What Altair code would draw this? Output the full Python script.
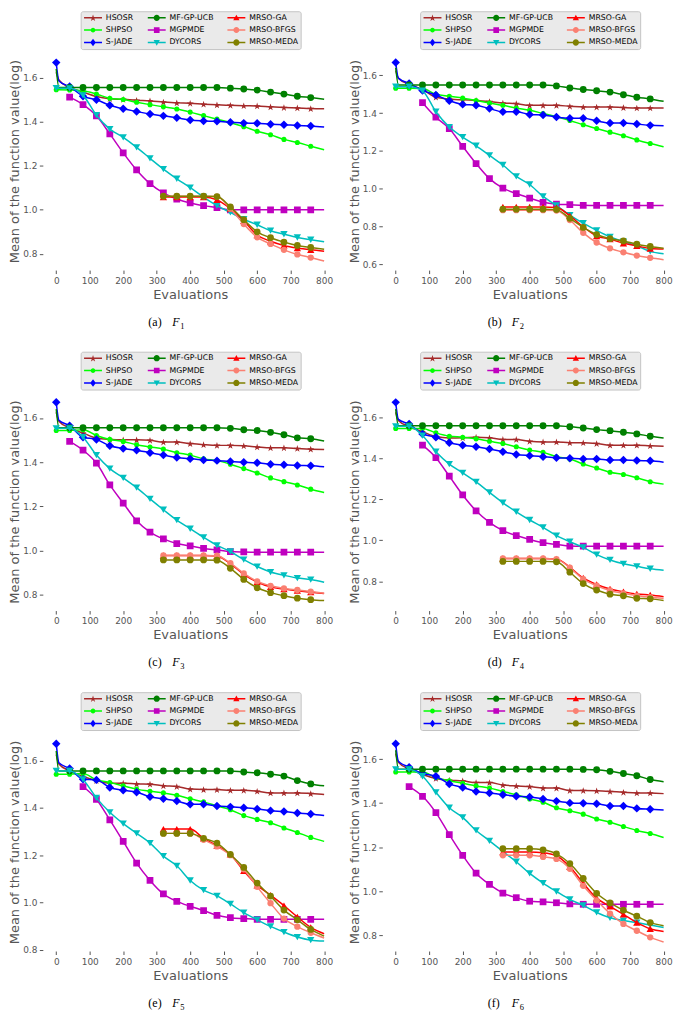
import altair as alt
import pandas as pd

N = None
EVALS = [0, 8, 40, 80, 120, 160, 200, 240, 280, 320, 360, 400, 440, 480,
         520, 560, 600, 640, 680, 720, 760, 800]
XTICKS = [0, 100, 200, 300, 400, 500, 600, 700, 800]

SERIES = ["HSOSR", "SHPSO", "S-JADE", "MF-GP-UCB", "MGPMDE", "DYCORS",
          "MRSO-GA", "MRSO-BFGS", "MRSO-MEDA"]
COLORS = ["#A52A2A", "#00FF00", "#0000FF", "#008000", "#BF00BF", "#00BFBF",
          "#FF0000", "#FA8072", "#808000"]
NO_MARK_AT_ZERO = ["HSOSR", "MF-GP-UCB"]

# ---------------- F1 ----------------
F1_HSOSR = [1.625, 1.59, 1.556, 1.535, 1.515, 1.505, 1.502, 1.498, 1.495, 1.49, 1.486, 1.484, 1.48, 1.477, 1.475, 1.473, 1.472, 1.468, 1.465, 1.463, 1.46, 1.459]
F1_SHPSO = [1.546, 1.546, 1.545, 1.541, 1.526, 1.507, 1.501, 1.489, 1.478, 1.468, 1.458, 1.444, 1.428, 1.412, 1.396, 1.378, 1.357, 1.341, 1.32, 1.306, 1.289, 1.273]
F1_SJADE = [1.669, 1.585, 1.56, 1.516, 1.50, 1.475, 1.459, 1.447, 1.435, 1.427, 1.418, 1.408, 1.404, 1.402, 1.398, 1.394, 1.393, 1.389, 1.387, 1.383, 1.381, 1.376]
F1_MFGPUCB = [1.64, 1.556, 1.556, 1.556, 1.556, 1.556, 1.556, 1.556, 1.556, 1.556, 1.556, 1.556, 1.556, 1.556, 1.553, 1.549, 1.544, 1.535, 1.526, 1.516, 1.51, 1.503]
F1_MGPMDE = [N, N, 1.512, 1.478, 1.427, 1.345, 1.259, 1.181, 1.119, 1.077, 1.049, 1.031, 1.019, 1.01, 1.0, 1.0, 1.0, 1.0, 1.0, 1.0, 1.0, 1.0]
F1_DYCORS = [1.553, 1.553, 1.552, 1.52, 1.43, 1.367, 1.329, 1.284, 1.234, 1.185, 1.141, 1.101, 1.058, 1.019, 0.988, 0.957, 0.932, 0.905, 0.889, 0.874, 0.864, 0.855]
F1_GA = [N, N, N, N, N, N, N, N, N, 1.058, 1.058, 1.058, 1.058, 1.045, 1.005, 0.95, 0.885, 0.857, 0.838, 0.826, 0.818, 0.812]
F1_BFGS = [N, N, N, N, N, N, N, N, N, 1.062, 1.062, 1.062, 1.062, 1.06, 1.005, 0.935, 0.875, 0.845, 0.818, 0.797, 0.783, 0.767]
F1_MEDA = [N, N, N, N, N, N, N, N, N, 1.062, 1.062, 1.062, 1.062, 1.06, 1.013, 0.955, 0.90, 0.873, 0.853, 0.838, 0.829, 0.821]

# ---------------- F2 ----------------
F2_HSOSR = [1.625, 1.585, 1.553, 1.525, 1.484, 1.475, 1.47, 1.467, 1.461, 1.453, 1.45, 1.441, 1.441, 1.441, 1.436, 1.432, 1.432, 1.432, 1.429, 1.427, 1.427, 1.427]
F2_SHPSO = [1.532, 1.532, 1.532, 1.53, 1.50, 1.489, 1.479, 1.467, 1.453, 1.441, 1.427, 1.415, 1.398, 1.381, 1.361, 1.338, 1.318, 1.299, 1.28, 1.258, 1.239, 1.222]
F2_SJADE = [1.668, 1.585, 1.557, 1.52, 1.496, 1.465, 1.446, 1.441, 1.424, 1.407, 1.407, 1.393, 1.39, 1.379, 1.373, 1.373, 1.359, 1.347, 1.347, 1.342, 1.335, 1.333]
F2_MFGPUCB = [1.64, 1.549, 1.549, 1.549, 1.549, 1.549, 1.549, 1.549, 1.549, 1.549, 1.549, 1.549, 1.549, 1.544, 1.533, 1.525, 1.518, 1.511, 1.497, 1.484, 1.475, 1.462]
F2_MGPMDE = [N, N, N, 1.455, 1.378, 1.318, 1.224, 1.133, 1.053, 1.003, 0.974, 0.95, 0.928, 0.918, 0.915, 0.912, 0.911, 0.911, 0.911, 0.911, 0.911, 0.911]
F2_DYCORS = [1.54, 1.54, 1.54, 1.518, 1.407, 1.326, 1.273, 1.227, 1.176, 1.125, 1.065, 1.022, 0.959, 0.911, 0.86, 0.817, 0.779, 0.745, 0.72, 0.697, 0.668, 0.655]
F2_GA = [N, N, N, N, N, N, N, N, N, 0.903, 0.903, 0.903, 0.903, 0.90, 0.856, 0.798, 0.749, 0.733, 0.711, 0.697, 0.683, 0.68]
F2_BFGS = [N, N, N, N, N, N, N, N, N, 0.886, 0.886, 0.886, 0.886, 0.884, 0.834, 0.766, 0.715, 0.684, 0.663, 0.646, 0.634, 0.624]
F2_MEDA = [N, N, N, N, N, N, N, N, N, 0.891, 0.891, 0.891, 0.891, 0.889, 0.843, 0.795, 0.757, 0.735, 0.723, 0.706, 0.694, 0.684]

# ---------------- F3 ----------------
F3_HSOSR = [1.625, 1.585, 1.555, 1.532, 1.509, 1.503, 1.501, 1.501, 1.499, 1.491, 1.491, 1.484, 1.479, 1.476, 1.476, 1.474, 1.469, 1.465, 1.465, 1.462, 1.459, 1.457]
F3_SHPSO = [1.543, 1.543, 1.543, 1.547, 1.521, 1.503, 1.494, 1.479, 1.469, 1.459, 1.443, 1.432, 1.415, 1.407, 1.391, 1.371, 1.351, 1.329, 1.312, 1.297, 1.278, 1.263]
F3_SJADE = [1.671, 1.59, 1.565, 1.513, 1.503, 1.474, 1.462, 1.454, 1.443, 1.432, 1.421, 1.415, 1.41, 1.407, 1.403, 1.40, 1.397, 1.391, 1.388, 1.385, 1.384, 1.379]
F3_MFGPUCB = [1.64, 1.556, 1.556, 1.556, 1.556, 1.556, 1.556, 1.556, 1.556, 1.556, 1.556, 1.556, 1.556, 1.556, 1.553, 1.547, 1.543, 1.535, 1.524, 1.51, 1.506, 1.496]
F3_MGPMDE = [N, N, 1.494, 1.454, 1.396, 1.297, 1.215, 1.135, 1.084, 1.053, 1.032, 1.021, 1.01, 1.003, 0.996, 0.994, 0.993, 0.993, 0.993, 0.993, 0.993, 0.993]
F3_DYCORS = [1.553, 1.553, 1.553, 1.513, 1.432, 1.371, 1.329, 1.285, 1.234, 1.185, 1.138, 1.099, 1.06, 1.024, 0.996, 0.959, 0.928, 0.903, 0.888, 0.876, 0.869, 0.857]
F3_GA = [N, N, N, N, N, N, N, N, N, 0.978, 0.978, 0.978, 0.978, 0.976, 0.94, 0.893, 0.858, 0.836, 0.826, 0.819, 0.812, 0.806]
F3_BFGS = [N, N, N, N, N, N, N, N, N, 0.978, 0.978, 0.978, 0.978, 0.977, 0.943, 0.897, 0.861, 0.841, 0.829, 0.822, 0.815, 0.807]
F3_MEDA = [N, N, N, N, N, N, N, N, N, 0.958, 0.958, 0.958, 0.958, 0.957, 0.92, 0.87, 0.832, 0.81, 0.796, 0.785, 0.778, 0.774]

# ---------------- F4 ----------------
F4_HSOSR = [1.625, 1.585, 1.555, 1.53, 1.506, 1.499, 1.50, 1.503, 1.50, 1.492, 1.492, 1.483, 1.48, 1.48, 1.476, 1.476, 1.472, 1.464, 1.464, 1.464, 1.461, 1.459]
F4_SHPSO = [1.546, 1.546, 1.546, 1.546, 1.524, 1.508, 1.503, 1.495, 1.483, 1.472, 1.456, 1.44, 1.429, 1.408, 1.397, 1.372, 1.353, 1.332, 1.321, 1.305, 1.286, 1.274]
F4_SJADE = [1.673, 1.59, 1.567, 1.519, 1.503, 1.476, 1.464, 1.456, 1.445, 1.432, 1.419, 1.413, 1.408, 1.403, 1.40, 1.397, 1.397, 1.392, 1.392, 1.389, 1.388, 1.381]
F4_MFGPUCB = [1.64, 1.559, 1.559, 1.559, 1.559, 1.559, 1.559, 1.559, 1.559, 1.559, 1.559, 1.559, 1.559, 1.559, 1.554, 1.548, 1.54, 1.535, 1.527, 1.519, 1.508, 1.499]
F4_MGPMDE = [N, N, N, 1.464, 1.403, 1.313, 1.221, 1.144, 1.087, 1.047, 1.023, 1.004, 0.988, 0.98, 0.972, 0.971, 0.971, 0.971, 0.971, 0.971, 0.971, 0.971]
F4_DYCORS = [1.556, 1.556, 1.556, 1.511, 1.432, 1.372, 1.329, 1.285, 1.234, 1.183, 1.139, 1.099, 1.063, 1.023, 0.993, 0.965, 0.93, 0.904, 0.885, 0.873, 0.861, 0.854]
F4_GA = [N, N, N, N, N, N, N, N, N, 0.911, 0.911, 0.911, 0.911, 0.909, 0.868, 0.816, 0.784, 0.762, 0.749, 0.738, 0.733, 0.725]
F4_BFGS = [N, N, N, N, N, N, N, N, N, 0.911, 0.911, 0.911, 0.911, 0.908, 0.866, 0.81, 0.778, 0.755, 0.741, 0.73, 0.722, 0.717]
F4_MEDA = [N, N, N, N, N, N, N, N, N, 0.897, 0.897, 0.897, 0.897, 0.895, 0.844, 0.789, 0.757, 0.737, 0.729, 0.717, 0.714, 0.706]

# ---------------- F5 ----------------
F5_HSOSR = [1.625, 1.585, 1.556, 1.532, 1.515, 1.504, 1.504, 1.501, 1.50, 1.493, 1.49, 1.479, 1.477, 1.477, 1.474, 1.474, 1.47, 1.463, 1.463, 1.463, 1.46, 1.456]
F5_SHPSO = [1.542, 1.542, 1.542, 1.545, 1.518, 1.507, 1.493, 1.479, 1.47, 1.463, 1.453, 1.438, 1.425, 1.408, 1.392, 1.367, 1.351, 1.337, 1.315, 1.296, 1.275, 1.258]
F5_SJADE = [1.671, 1.59, 1.566, 1.521, 1.518, 1.486, 1.474, 1.466, 1.447, 1.438, 1.429, 1.415, 1.415, 1.408, 1.404, 1.40, 1.395, 1.388, 1.384, 1.378, 1.374, 1.367]
F5_MFGPUCB = [1.64, 1.556, 1.556, 1.556, 1.556, 1.556, 1.556, 1.556, 1.556, 1.556, 1.556, 1.556, 1.556, 1.556, 1.556, 1.551, 1.548, 1.542, 1.534, 1.515, 1.501, 1.493]
F5_MGPMDE = [N, N, N, 1.49, 1.436, 1.349, 1.258, 1.166, 1.093, 1.036, 1.005, 0.984, 0.966, 0.946, 0.936, 0.932, 0.929, 0.929, 0.929, 0.929, 0.929, 0.929]
F5_DYCORS = [1.556, 1.556, 1.556, 1.52, 1.442, 1.381, 1.333, 1.292, 1.251, 1.196, 1.155, 1.093, 1.052, 1.028, 0.994, 0.957, 0.927, 0.899, 0.875, 0.854, 0.841, 0.837]
F5_GA = [N, N, N, N, N, N, N, N, N, 1.31, 1.31, 1.31, 1.271, 1.24, 1.203, 1.134, 1.073, 1.031, 0.987, 0.939, 0.895, 0.868]
F5_BFGS = [N, N, N, N, N, N, N, N, N, 1.292, 1.292, 1.292, 1.265, 1.237, 1.20, 1.14, 1.066, 0.997, 0.932, 0.898, 0.872, 0.85]
F5_MEDA = [N, N, N, N, N, N, N, N, N, 1.292, 1.292, 1.292, 1.271, 1.251, 1.203, 1.148, 1.082, 1.027, 0.968, 0.927, 0.886, 0.858]

# ---------------- F6 ----------------
F6_HSOSR = [1.625, 1.585, 1.555, 1.53, 1.512, 1.504, 1.501, 1.493, 1.493, 1.482, 1.478, 1.475, 1.468, 1.468, 1.457, 1.457, 1.456, 1.453, 1.449, 1.446, 1.446, 1.443]
F6_SHPSO = [1.541, 1.541, 1.541, 1.541, 1.516, 1.501, 1.49, 1.478, 1.468, 1.453, 1.438, 1.419, 1.404, 1.379, 1.365, 1.35, 1.328, 1.313, 1.294, 1.276, 1.262, 1.244]
F6_SJADE = [1.669, 1.59, 1.563, 1.534, 1.522, 1.487, 1.471, 1.453, 1.446, 1.438, 1.431, 1.428, 1.419, 1.409, 1.401, 1.399, 1.397, 1.387, 1.387, 1.376, 1.372, 1.369]
F6_MFGPUCB = [1.64, 1.554, 1.554, 1.554, 1.554, 1.554, 1.554, 1.554, 1.554, 1.554, 1.554, 1.554, 1.554, 1.554, 1.554, 1.553, 1.551, 1.544, 1.534, 1.524, 1.507, 1.497]
F6_MGPMDE = [N, N, 1.475, 1.431, 1.357, 1.257, 1.163, 1.082, 1.031, 0.992, 0.971, 0.955, 0.952, 0.948, 0.943, 0.941, 0.941, 0.941, 0.941, 0.941, 0.941, 0.941]
F6_DYCORS = [1.553, 1.553, 1.553, 1.522, 1.449, 1.379, 1.335, 1.276, 1.229, 1.181, 1.134, 1.081, 1.037, 0.999, 0.963, 0.936, 0.904, 0.88, 0.867, 0.858, 0.847, 0.836]
F6_GA = [N, N, N, N, N, N, N, N, N, 1.178, 1.178, 1.178, 1.175, 1.161, 1.111, 1.037, 0.969, 0.932, 0.895, 0.858, 0.83, 0.818]
F6_BFGS = [N, N, N, N, N, N, N, N, N, 1.163, 1.163, 1.163, 1.156, 1.147, 1.102, 1.025, 0.959, 0.899, 0.852, 0.821, 0.791, 0.77]
F6_MEDA = [N, N, N, N, N, N, N, N, N, 1.193, 1.193, 1.193, 1.188, 1.17, 1.126, 1.058, 0.991, 0.947, 0.914, 0.887, 0.858, 0.844]

PANEL_SERIES = [
    [F1_HSOSR, F1_SHPSO, F1_SJADE, F1_MFGPUCB, F1_MGPMDE, F1_DYCORS, F1_GA, F1_BFGS, F1_MEDA],
    [F2_HSOSR, F2_SHPSO, F2_SJADE, F2_MFGPUCB, F2_MGPMDE, F2_DYCORS, F2_GA, F2_BFGS, F2_MEDA],
    [F3_HSOSR, F3_SHPSO, F3_SJADE, F3_MFGPUCB, F3_MGPMDE, F3_DYCORS, F3_GA, F3_BFGS, F3_MEDA],
    [F4_HSOSR, F4_SHPSO, F4_SJADE, F4_MFGPUCB, F4_MGPMDE, F4_DYCORS, F4_GA, F4_BFGS, F4_MEDA],
    [F5_HSOSR, F5_SHPSO, F5_SJADE, F5_MFGPUCB, F5_MGPMDE, F5_DYCORS, F5_GA, F5_BFGS, F5_MEDA],
    [F6_HSOSR, F6_SHPSO, F6_SJADE, F6_MFGPUCB, F6_MGPMDE, F6_DYCORS, F6_GA, F6_BFGS, F6_MEDA],
]
Y_DOMAINS = [[0.726, 1.717], [0.569, 1.723], [0.729, 1.715],
             [0.657, 1.721], [0.795, 1.716], [0.729, 1.718]]
Y_TICKS = [[0.8, 1.0, 1.2, 1.4, 1.6], [0.6, 0.8, 1.0, 1.2, 1.4, 1.6],
           [0.8, 1.0, 1.2, 1.4, 1.6], [0.8, 1.0, 1.2, 1.4, 1.6],
           [0.8, 1.0, 1.2, 1.4, 1.6], [0.8, 1.0, 1.2, 1.4, 1.6]]
CAP_LETTERS = ["(a)", "(b)", "(c)", "(d)", "(e)", "(f)"]
CAP_INDEX = ["1", "2", "3", "4", "5", "6"]

# ---------------- styling ----------------
W, H = 296, 219
STAR_PTS = [(0, -1), (0.225, -0.309), (0.951, -0.309), (0.363, 0.118), (0.588, 0.809),
            (0, 0.382), (-0.588, 0.809), (-0.363, 0.118), (-0.951, -0.309), (-0.225, -0.309)]


def poly(pts, s=1.0, dx=0.0, dy=0.0):
    return "M" + "L".join(f"{x * s + dx:.3f},{y * s + dy:.3f}" for x, y in pts) + "Z"


STAR = poly(STAR_PTS, 1.0, 0, 0.1)
MARKER_SHAPES = [STAR, "circle", "diamond", "circle", "square", "triangle-down",
                 "triangle-up", "circle", "circle"]
MARKER_SIZES = [56, 26, 72, 48, 46, 54, 54, 40, 46]


def circ(r):
    return f"M{2 + r},0A{r},{r},0,1,1,{2 - r},0A{r},{r},0,1,1,{2 + r},0Z"


# legend sample: a thin filled bar (the line) plus the marker, unit = 3 px
LINE = "M-1,-0.25H5V0.25H-1Z"
LEG_MARK = {
    "HSOSR": poly(STAR_PTS, 1.2, 2, 0.1),
    "SHPSO": circ(0.8),
    "S-JADE": "M2,-1.25L2.95,0L2,1.25L1.05,0Z",
    "MF-GP-UCB": circ(1.05),
    "MGPMDE": "M1.05,-0.95H2.95V0.95H1.05Z",
    "DYCORS": "M0.95,-0.85H3.05L2,1.05Z",
    "MRSO-GA": "M2,-1.05L3.05,0.85H0.95Z",
    "MRSO-BFGS": circ(1.0),
    "MRSO-MEDA": circ(1.05),
}
LEG_PATHS = [LINE + LEG_MARK[s] for s in SERIES]


def make_panel(i):
    rows = []
    for s, vals in zip(SERIES, PANEL_SERIES[i]):
        for x, v in zip(EVALS, vals):
            mark = (v is not None and x % 40 == 0 and x < 800
                    and not (x == 0 and s in NO_MARK_AT_ZERO))
            rows.append({"series": s, "x": x, "y": v, "mark": mark})
    df = pd.DataFrame(rows)
    base = alt.Chart(df)
    xenc = alt.X("x:Q", scale=alt.Scale(domain=[-40, 840], nice=False, zero=False),
                 axis=alt.Axis(values=XTICKS, title="Evaluations", titlePadding=3,
                               labelPadding=3))
    yenc = alt.Y("y:Q", scale=alt.Scale(domain=Y_DOMAINS[i], nice=False, zero=False),
                 axis=alt.Axis(values=Y_TICKS[i], format=".1f",
                               title="Mean of the function value(log)",
                               titlePadding=1, labelPadding=2.5))
    layers = []
    for j, s in enumerate(SERIES):
        sub = base.transform_filter(alt.datum.series == s).transform_filter("isValid(datum.y)")
        layers.append(sub.mark_line(color=COLORS[j], strokeWidth=1.5,
                                    interpolate="monotone", clip=True)
                      .encode(x=xenc, y=yenc))
        layers.append(sub.transform_filter(alt.datum.mark)
                      .mark_point(shape=MARKER_SHAPES[j], size=MARKER_SIZES[j],
                                  filled=True, color=COLORS[j], opacity=1, clip=True)
                      .encode(x=xenc, y=yenc))
    leg = alt.Legend(orient="none", legendX=38, legendY=-41, columns=3, title=None,
                     symbolSize=36, symbolStrokeWidth=0, labelOffset=15,
                     labelFont="DejaVu Sans", labelFontSize=7.8, labelColor="black",
                     rowPadding=3.5, columnPadding=13, padding=2.5,
                     fillColor="#EAEAEA", strokeColor="#C4C4C4", cornerRadius=2,
                     gridAlign="each", symbolOpacity=1)
    leg_layer = (alt.Chart(pd.DataFrame({"series": ["HSOSR"]}))
                 .transform_filter("false")
                 .mark_point(filled=True, opacity=1, size=36, strokeWidth=0)
                 .encode(fill=alt.Fill("series:N", scale=alt.Scale(domain=SERIES, range=COLORS), legend=leg),
                         shape=alt.Shape("series:N", scale=alt.Scale(domain=SERIES, range=LEG_PATHS), legend=leg)))
    layers.append(leg_layer)
    cap1 = (alt.Chart(pd.DataFrame({"t": [CAP_LETTERS[i]]}))
            .mark_text(font="Liberation Serif", fontSize=12, align="left",
                       baseline="alphabetic", color="black")
            .encode(text="t:N", x=alt.value(106), y=alt.value(H + 56)))
    cap2 = (alt.Chart(pd.DataFrame({"t": ["F"]}))
            .mark_text(font="Liberation Serif", fontSize=12, fontStyle="italic",
                       align="left", baseline="alphabetic", color="black")
            .encode(text="t:N", x=alt.value(130), y=alt.value(H + 56)))
    cap3 = (alt.Chart(pd.DataFrame({"t": [CAP_INDEX[i]]}))
            .mark_text(font="Liberation Serif", fontSize=8.5, align="left",
                       baseline="alphabetic", color="black")
            .encode(text="t:N", x=alt.value(138), y=alt.value(H + 59)))
    layers += [cap1, cap2, cap3]
    return alt.layer(*layers).properties(width=W, height=H)


INDEP = dict(fill="independent", shape="independent")
rows = []
for r in range(3):
    row = (alt.hconcat(make_panel(2 * r), make_panel(2 * r + 1), spacing=10)
           .resolve_scale(**INDEP).resolve_legend(**INDEP))
    rows.append(row)

chart = (alt.vconcat(*rows, spacing=20)
         .resolve_scale(**INDEP).resolve_legend(**INDEP)
         .properties(padding={"left": 0, "top": 0, "right": 0, "bottom": 0})
         .configure_view(stroke=None, fill="#E5E5E5")
         .configure_axis(gridColor="white", gridWidth=1, domain=False,
                         tickColor="#555555", tickSize=3.5,
                         labelColor="#555555", labelFont="DejaVu Sans", labelFontSize=9,
                         titleColor="#555555", titleFont="DejaVu Sans", titleFontSize=13,
                         titleFontWeight="normal"))

chart.save("out.html", embed_options={"renderer": "svg", "actions": False})
